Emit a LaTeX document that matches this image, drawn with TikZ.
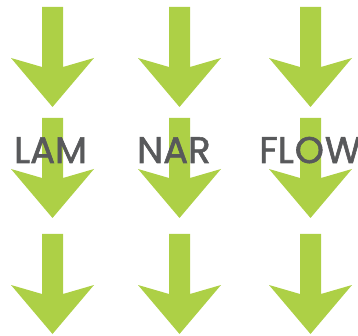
\documentclass[tikz,border=0pt]{standalone}
\usepackage{fontspec}
\setmainfont{Poppins}[FakeBold=1.6]
\definecolor{arrowgreen}{HTML}{ADD046}
\definecolor{textgray}{HTML}{58595B}
\tikzset{
  greenarrow/.style={fill=arrowgreen, draw=none},
  label/.style={text=textgray, font=\fontsize{37}{40}\selectfont, inner sep=0pt, anchor=base west}
}
\newcommand{\downarrowshape}[2]{%
  \fill[greenarrow] (#1-10.5,#2) -- (#1+10.5,#2) -- (#1+10.5,#2+60) -- (#1+41.5,#2+51) -- (#1,#2+100) -- (#1-41.5,#2+51) -- (#1-10.5,#2+60) -- cycle;}
\begin{document}
\begin{tikzpicture}[x=1pt,y=-1pt]
\useasboundingbox (0,0) rectangle (358,336);
\clip (0,0) rectangle (358,336);
\foreach \cx in {52.5,179.5,310.5}{
  \foreach \ty in {7,118,234}{
    \downarrowshape{\cx}{\ty}
  }
}
\node[label] (lam) at (14,163) {LAM};
\node[label] (nar) at (137,163) {NAR};
\node[label] (flow) at (259,163) {FL\kern1pt O\kern1pt W};
\end{tikzpicture}
\end{document}
